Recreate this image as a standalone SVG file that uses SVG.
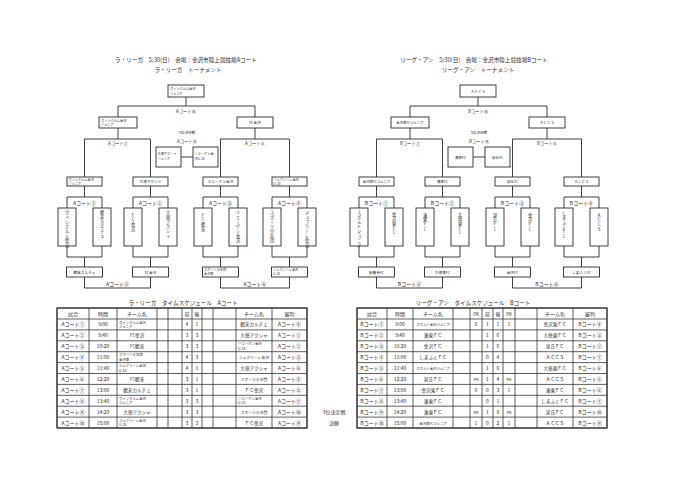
<svg xmlns="http://www.w3.org/2000/svg" width="700" height="495" viewBox="0 0 700 495">
<style>
.ln{fill:none;stroke:#2a2a2a;stroke-width:0.9}
.bx{fill:#fff;stroke:#2a2a2a;stroke-width:0.9}
.tb{fill:none;stroke:#2a2a2a;stroke-width:0.75}
text{font-family:"Noto Sans CJK JP","Noto Sans",sans-serif;fill:#2a2a2a}
.hd{font-size:5.6px;text-anchor:middle}
.lb{font-size:4.3px;text-anchor:middle}
.ct{font-size:5px;text-anchor:middle}
.bt{font-size:3.7px;text-anchor:middle}
.b2{font-size:3.2px}
.vt{font-size:4.2px;writing-mode:vertical-rl;text-orientation:upright;letter-spacing:0.5px}
.tc{font-size:5px;text-anchor:middle}
.tn{font-size:4.6px;text-anchor:middle}
.t2{font-size:3.4px}
</style>
<rect width="700" height="495" fill="#fff"/>

<!-- ===== Left tournament (A court) ===== -->
<text class="hd" x="186" y="62">ラ・リーガ　5/30(日)　会場：金沢市陸上競技場Aコート</text>
<text class="hd" x="188" y="72">ラ・リーガ　トーナメント</text>

<g id="bracket-a">
<g id="a-connectors" class="ln"><path d="M186,97V106M118,106H255M118,106V117M255,106V117M118,128V139M255,128V139M84.5,139H150.5M220.5,139H289.5M84.5,139V177M150.5,139V177M220.5,139V177M289.5,139V177M181,157H193M84.5,186V197M67,208V197H102V208M67,246V257H102V246M84.5,257V267M84.5,277V288M150.5,186V197M133,208V197H168V208M133,246V257H168V246M150.5,257V267M150.5,277V288M220.5,186V197M203,208V197H238V208M203,246V257H238V246M220.5,257V267M220.5,277V288M289.5,186V197M272,208V197H307V208M272,246V257H307V246M289.5,257V267M289.5,277V288M84.5,288H150.5M220.5,288H289.5"/></g>
<g id="a-labels">
<text class="lb" x="186" y="113">Aコート⑩</text>
<text class="lb" x="118" y="144.5">Aコート⑦</text>
<text class="lb" x="255" y="144.5">Aコート⑧</text>
<text class="lb" x="187" y="134" style="font-size:3.6px">3位決定戦</text>
<text class="lb" x="187" y="143">Aコート⑨</text>
<text class="ct" x="84.5" y="205">Aコート①</text>
<text class="ct" x="150.5" y="205">Aコート②</text>
<text class="ct" x="220.5" y="205">Aコート③</text>
<text class="ct" x="289.5" y="205">Aコート④</text>
<text class="ct" x="117.5" y="285.5">Aコート⑤</text>
<text class="ct" x="255" y="285.5">Aコート⑥</text>
</g>
<g id="a-final"><rect class="bx" x="168" y="85" width="36" height="12"/><text class="b2" x="170" y="90">ヴィンクルム金沢</text><text class="b2" x="170" y="95">ジュニア</text></g>
<g id="a-semi-1"><rect class="bx" x="99" y="117" width="38" height="11"/><text class="b2" x="101" y="121.5">ヴィンクルム金沢</text><text class="b2" x="101" y="126">ジュニア</text></g>
<g id="a-semi-2"><rect class="bx" x="237" y="117" width="36" height="11"/><text class="bt" x="255" y="124">FC金沢</text></g>
<g id="a-third-1"><rect class="bx" x="156" y="147" width="25" height="20"/><text class="b2" x="157.5" y="155">大徳アクシャ</text><text class="b2" x="157.5" y="160">ジュニア</text></g>
<g id="a-third-2"><rect class="bx" x="193" y="147" width="25" height="20"/><text class="b2" x="194.5" y="155">ツエーゲン金</text><text class="b2" x="194.5" y="160">沢U-10</text></g>
<g id="a-win-1"><rect class="bx" x="67" y="177" width="35" height="9"/><text class="b2" x="68.5" y="180.8">ヴィンクルム金沢</text><text class="b2" x="68.5" y="184.9">ジュニア</text></g>
<g id="a-win-2"><rect class="bx" x="133" y="177" width="35" height="9"/><text class="bt" x="150.5" y="183.2">大徳アクシャ</text></g>
<g id="a-win-3"><rect class="bx" x="203" y="177" width="35" height="9"/><text class="bt" x="220.5" y="183.2">ツエーゲン金沢</text></g>
<g id="a-win-4"><rect class="bx" x="272" y="177" width="35" height="9"/><text class="b2" x="273.5" y="180.8">ジュブリーレ金沢</text><text class="b2" x="273.5" y="184.9">U-10</text></g>
<g id="a-team-1"><rect class="bx" x="58" y="208" width="18" height="38"/><text class="vt" x="67" y="210.5">ヴィンクルム金沢</text></g>
<g id="a-team-2"><rect class="bx" x="93" y="208" width="18" height="38"/><text class="vt" x="102" y="210.5">鶴来カルチェ</text></g>
<g id="a-team-3"><rect class="bx" x="124" y="208" width="18" height="38"/><text class="vt" x="133" y="213">FC金沢</text></g>
<g id="a-team-4"><rect class="bx" x="159" y="208" width="18" height="38"/><text class="vt" x="168" y="210.5">大徳アクシャ</text></g>
<g id="a-team-5"><rect class="bx" x="194" y="208" width="18" height="38"/><text class="vt" x="203" y="213">FC鶴来</text></g>
<g id="a-team-6"><rect class="bx" x="229" y="208" width="18" height="38"/><text class="vt" x="238" y="210.5">ツエーゲン金沢</text></g>
<g id="a-team-7"><rect class="bx" x="263" y="208" width="18" height="38"/><text class="vt" x="272" y="210.5">スポーツ少年団</text></g>
<g id="a-team-8"><rect class="bx" x="298" y="208" width="18" height="38"/><text class="vt" x="307" y="210.5">ジュブリーレ金沢</text></g>
<g id="a-lose-1"><rect class="bx" x="66.5" y="267" width="36" height="10"/><text class="bt" x="84.5" y="273.5">鶴来カルチェ</text></g>
<g id="a-lose-2"><rect class="bx" x="132.5" y="267" width="36" height="10"/><text class="bt" x="150.5" y="273.5">FC金沢</text></g>
<g id="a-lose-3"><rect class="bx" x="202.5" y="267" width="36" height="10"/><text class="b2" x="204" y="270.9">スポーツ少年団</text><text class="b2" x="204" y="275.2">金沢東</text></g>
<g id="a-lose-4"><rect class="bx" x="271.5" y="267" width="36" height="10"/><text class="b2" x="273" y="270.9">ジュブリーレ金沢</text><text class="b2" x="273" y="275.2">U-10</text></g>
</g>

<!-- ===== Right tournament (B court) ===== -->
<text class="hd" x="474" y="62">リーグ・アン　5/30(日)　会場：金沢市陸上競技場Bコート</text>
<text class="hd" x="478" y="72">リーグ・アン　トーナメント</text>

<g id="bracket-b" transform="translate(292,0)">
<g id="b-connectors" class="ln"><path d="M186,97V106M118,106H255M118,106V117M255,106V117M118,128V139M255,128V139M84.5,139H150.5M220.5,139H289.5M84.5,139V177M150.5,139V177M220.5,139V177M289.5,139V177M181,157H193M84.5,186V197M67,208V197H102V208M67,246V257H102V246M84.5,257V267M84.5,277V288M150.5,186V197M133,208V197H168V208M133,246V257H168V246M150.5,257V267M150.5,277V288M220.5,186V197M203,208V197H238V208M203,246V257H238V246M220.5,257V267M220.5,277V288M289.5,186V197M272,208V197H307V208M272,246V257H307V246M289.5,257V267M289.5,277V288M84.5,288H150.5M220.5,288H289.5"/></g>
<g id="b-labels">
<text class="lb" x="186" y="113">Bコート⑩</text>
<text class="lb" x="118" y="144.5">Bコート⑦</text>
<text class="lb" x="255" y="144.5">Bコート⑧</text>
<text class="lb" x="187" y="134" style="font-size:3.6px">3位決定戦</text>
<text class="lb" x="187" y="143">Bコート⑨</text>
<text class="ct" x="84.5" y="205">Bコート①</text>
<text class="ct" x="150.5" y="205">Bコート②</text>
<text class="ct" x="220.5" y="205">Bコート③</text>
<text class="ct" x="289.5" y="205">Bコート④</text>
<text class="ct" x="117.5" y="285.5">Bコート⑤</text>
<text class="ct" x="255" y="285.5">Bコート⑥</text>
</g>
<g id="b-final"><rect class="bx" x="168" y="85" width="36" height="12"/><text class="bt" x="186" y="92.5">ＡＣＣＳ</text></g>
<g id="b-semi-1"><rect class="bx" x="99" y="117" width="38" height="11"/><text class="bt" x="118" y="124" style="font-size:3.4px">金沢東FCジュニア</text></g>
<g id="b-semi-2"><rect class="bx" x="237" y="117" width="36" height="11"/><text class="bt" x="255" y="124">ＡＣＣＳ</text></g>
<g id="b-third-1"><rect class="bx" x="156" y="147" width="25" height="20"/><text class="bt" x="168.5" y="158.5">湊東FC</text></g>
<g id="b-third-2"><rect class="bx" x="193" y="147" width="25" height="20"/><text class="bt" x="205.5" y="158.5">泉丘FC</text></g>
<g id="b-win-1"><rect class="bx" x="67" y="177" width="35" height="9"/><text class="bt" x="84.5" y="183.2" style="font-size:3.4px">金沢東FCジュニア</text></g>
<g id="b-win-2"><rect class="bx" x="133" y="177" width="35" height="9"/><text class="bt" x="150.5" y="183.2">湊東FC</text></g>
<g id="b-win-3"><rect class="bx" x="203" y="177" width="35" height="9"/><text class="bt" x="220.5" y="183.2">泉丘FC</text></g>
<g id="b-win-4"><rect class="bx" x="272" y="177" width="35" height="9"/><text class="bt" x="289.5" y="183.2">ＡＣＣＳ</text></g>
<g id="b-team-1"><rect class="bx" x="58" y="208" width="18" height="38"/><text class="vt" x="67" y="210.5">スポルトジュニア</text></g>
<g id="b-team-2"><rect class="bx" x="93" y="208" width="18" height="38"/><text class="vt" x="102" y="212">金沢東FC</text></g>
<g id="b-team-3"><rect class="bx" x="124" y="208" width="18" height="38"/><text class="vt" x="133" y="213">湊東FC</text></g>
<g id="b-team-4"><rect class="bx" x="159" y="208" width="18" height="38"/><text class="vt" x="168" y="212">大徳東FC</text></g>
<g id="b-team-5"><rect class="bx" x="194" y="208" width="18" height="38"/><text class="vt" x="203" y="213">泉丘FC</text></g>
<g id="b-team-6"><rect class="bx" x="229" y="208" width="18" height="38"/><text class="vt" x="238" y="213">金沢FC</text></g>
<g id="b-team-7"><rect class="bx" x="263" y="208" width="18" height="38"/><text class="vt" x="272" y="211">しまふくFC</text></g>
<g id="b-team-8"><rect class="bx" x="298" y="208" width="18" height="38"/><text class="vt" x="307" y="213">ＡＣＣＳ</text></g>
<g id="b-lose-1"><rect class="bx" x="66.5" y="267" width="36" height="10"/><text class="bt" x="84.5" y="273.5">安養寺FC</text></g>
<g id="b-lose-2"><rect class="bx" x="132.5" y="267" width="36" height="10"/><text class="bt" x="150.5" y="273.5">大徳東FC</text></g>
<g id="b-lose-3"><rect class="bx" x="202.5" y="267" width="36" height="10"/><text class="bt" x="220.5" y="273.5">金沢FC</text></g>
<g id="b-lose-4"><rect class="bx" x="271.5" y="267" width="36" height="10"/><text class="bt" x="289.5" y="273.5">しまふくFC</text></g>
</g>

<!-- ===== Left schedule table ===== -->
<g id="table-a">
<text class="hd" x="183" y="305">ラ・リーガ　タイムスケジュール　Aコート</text>
<path class="tb" d="M57,308H307M57,319H307M57,329.9H307M57,340.8H307M57,351.7H307M57,362.6H307M57,373.5H307M57,384.4H307M57,395.3H307M57,406.2H307M57,417.1H307M57,428H307M57,308V428M89,308V428M117,308V428M157,308V428M168,308V428M182,308V428M192,308V428M202,308V428M213,308V428M236,308V428M272,308V428M307,308V428"/>
<rect x="57" y="308" width="250" height="120" fill="none" stroke="#2a2a2a" stroke-width="1.1"/>
<g class="tc">
<text x="73" y="315.8">試合</text><text x="103" y="315.8">時間</text><text x="137" y="315.8">チーム名</text><text x="187" y="315.8">前</text><text x="197" y="315.8">後</text><text x="254" y="315.8">チーム名</text><text x="289.5" y="315.8">審判</text>
<text x="73" y="326.4">Aコート①</text><text x="103" y="326.4">9:00</text><text x="187" y="326.4">4</text><text x="197" y="326.4">1</text><text x="289.5" y="326.4">Aコート④</text>
<text x="73" y="337.3">Aコート②</text><text x="103" y="337.3">9:40</text><text x="187" y="337.3">3</text><text x="197" y="337.3">3</text><text x="289.5" y="337.3">Aコート①</text>
<text x="73" y="348.2">Aコート③</text><text x="103" y="348.2">10:20</text><text x="187" y="348.2">3</text><text x="197" y="348.2">3</text><text x="289.5" y="348.2">Aコート②</text>
<text x="73" y="359.1">Aコート④</text><text x="103" y="359.1">11:00</text><text x="187" y="359.1">4</text><text x="197" y="359.1">3</text><text x="289.5" y="359.1">Aコート③</text>
<text x="73" y="370">Aコート⑤</text><text x="103" y="370">11:40</text><text x="187" y="370">4</text><text x="197" y="370">1</text><text x="289.5" y="370">Aコート⑥</text>
<text x="73" y="380.9">Aコート⑥</text><text x="103" y="380.9">12:20</text><text x="187" y="380.9">3</text><text x="197" y="380.9">1</text><text x="289.5" y="380.9">Aコート⑤</text>
<text x="73" y="391.8">Aコート⑦</text><text x="103" y="391.8">13:00</text><text x="187" y="391.8">3</text><text x="197" y="391.8">1</text><text x="289.5" y="391.8">Aコート⑧</text>
<text x="73" y="402.7">Aコート⑧</text><text x="103" y="402.7">13:40</text><text x="187" y="402.7">3</text><text x="197" y="402.7">3</text><text x="289.5" y="402.7">Aコート⑦</text>
<text x="73" y="413.6">Aコート⑨</text><text x="103" y="413.6">14:20</text><text x="187" y="413.6">3</text><text x="197" y="413.6">3</text><text x="289.5" y="413.6">Aコート⑩</text>
<text x="73" y="424.5">Aコート⑩</text><text x="103" y="424.5">15:00</text><text x="187" y="424.5">3</text><text x="197" y="424.5">3</text><text x="289.5" y="424.5">Aコート⑨</text>
</g>
<g class="tn">
<text x="137" y="337.3">FC金沢</text><text x="137" y="348.2">FC鶴来</text><text x="137" y="380.9">FC鶴来</text><text x="137" y="391.8">鶴来カルチェ</text><text x="137" y="413.6">大徳アクシャ</text>
<text x="254" y="326.4">鶴来カルチェ</text><text x="254" y="337.3">大徳アクシャ</text><text x="254" y="359.1" style="font-size:3.8px">ジュブリーレ金沢</text><text x="254" y="370">大徳アクシャ</text><text x="254" y="380.9" style="font-size:3.8px">スポーツ少年団</text><text x="254" y="391.8">ＦＣ金沢</text><text x="254" y="413.6" style="font-size:3.8px">スポーツ少年団</text><text x="254" y="424.5">ＦＣ金沢</text>
</g>
<g class="t2">
<text x="119" y="323.6">ヴィンクルム金沢</text><text x="119" y="327.9">ジュニア</text>
<text x="238" y="345.4">ツエーゲン金沢</text><text x="238" y="349.7">U-10</text>
<text x="119" y="356.3">スポーツ少年団</text><text x="119" y="360.6">金沢東</text>
<text x="119" y="367.2">ジュブリーレ金沢</text><text x="119" y="371.5">U-10</text>
<text x="119" y="399.9">ヴィンクルム金沢</text><text x="119" y="404.2">ジュニア</text>
<text x="238" y="399.9">ツエーゲン金沢</text><text x="238" y="404.2">U-10</text>
<text x="119" y="421.7">ジュブリーレ金沢</text><text x="119" y="426">U-10</text>
</g>
</g>

<text class="tc" x="334" y="413.5">3位決定戦</text>
<text class="tc" x="334" y="424.5">決勝</text>

<!-- ===== Right schedule table ===== -->
<g id="table-b">
<text class="hd" x="473" y="305">リーグ・アン　タイムスケジュール　Bコート</text>
<path class="tb" d="M357,308H607M357,319H607M357,329.9H607M357,340.8H607M357,351.7H607M357,362.6H607M357,373.5H607M357,384.4H607M357,395.3H607M357,406.2H607M357,417.1H607M357,428H607M357,308V428M387,308V428M413,308V428M453,308V428M470,308V428M482,308V428M493,308V428M503,308V428M515,308V428M537,308V428M573,308V428M607,308V428"/>
<rect x="357" y="308" width="250" height="120" fill="none" stroke="#2a2a2a" stroke-width="1.1"/>
<g class="tc">
<text x="372" y="315.8">試合</text><text x="400" y="315.8">時間</text><text x="433" y="315.8">チーム名</text><text x="476" y="315.8" style="font-size:4.4px">PK</text><text x="487.5" y="315.8">前</text><text x="498" y="315.8">後</text><text x="509" y="315.8" style="font-size:4.4px">PK</text><text x="555" y="315.8">チーム名</text><text x="590" y="315.8">審判</text>
<text x="372" y="326.4">Bコート①</text><text x="400" y="326.4">9:00</text><text x="476" y="326.4">0</text><text x="487.5" y="326.4">1</text><text x="498" y="326.4">1</text><text x="509" y="326.4">1</text><text x="590" y="326.4">Bコート④</text>
<text x="372" y="337.3">Bコート②</text><text x="400" y="337.3">9:40</text><text x="487.5" y="337.3">1</text><text x="498" y="337.3">6</text><text x="590" y="337.3">Bコート③</text>
<text x="372" y="348.2">Bコート③</text><text x="400" y="348.2">10:20</text><text x="487.5" y="348.2">1</text><text x="498" y="348.2">6</text><text x="590" y="348.2">Bコート②</text>
<text x="372" y="359.1">Bコート④</text><text x="400" y="359.1">11:00</text><text x="487.5" y="359.1">0</text><text x="498" y="359.1">4</text><text x="590" y="359.1">Bコート①</text>
<text x="372" y="370">Bコート⑤</text><text x="400" y="370">11:40</text><text x="487.5" y="370">1</text><text x="498" y="370">6</text><text x="590" y="370">Bコート⑥</text>
<text x="372" y="380.9">Bコート⑥</text><text x="400" y="380.9">12:20</text><text x="476" y="380.9" style="font-size:4px">PK</text><text x="487.5" y="380.9">1</text><text x="498" y="380.9">4</text><text x="509" y="380.9" style="font-size:4px">PK</text><text x="590" y="380.9">Bコート⑤</text>
<text x="372" y="391.8">Bコート⑦</text><text x="400" y="391.8">13:00</text><text x="476" y="391.8">0</text><text x="487.5" y="391.8">0</text><text x="498" y="391.8">3</text><text x="509" y="391.8">1</text><text x="590" y="391.8">Bコート⑧</text>
<text x="372" y="402.7">Bコート⑧</text><text x="400" y="402.7">13:40</text><text x="487.5" y="402.7">0</text><text x="498" y="402.7">1</text><text x="590" y="402.7">Bコート⑦</text>
<text x="372" y="413.6">Bコート⑨</text><text x="400" y="413.6">14:20</text><text x="476" y="413.6" style="font-size:4px">PK</text><text x="487.5" y="413.6">1</text><text x="498" y="413.6">0</text><text x="509" y="413.6" style="font-size:4px">PK</text><text x="590" y="413.6">Bコート⑩</text>
<text x="372" y="424.5">Bコート⑩</text><text x="400" y="424.5">15:00</text><text x="476" y="424.5">1</text><text x="487.5" y="424.5">0</text><text x="498" y="424.5">2</text><text x="509" y="424.5">1</text><text x="590" y="424.5">Bコート⑨</text>
</g>
<g class="tn">
<text x="433" y="326.4" style="font-size:3.4px">スポルト金沢ジュニア</text><text x="433" y="337.3">湊東ＦＣ</text><text x="433" y="348.2">金沢ＦＣ</text><text x="433" y="359.1">しまふくＦＣ</text><text x="433" y="370" style="font-size:3.4px">スポルト金沢ジュニア</text><text x="433" y="380.9">泉丘ＦＣ</text><text x="433" y="391.8">金沢東ＦＣ</text><text x="433" y="402.7">湊東ＦＣ</text><text x="433" y="413.6">湊東ＦＣ</text><text x="433" y="424.5" style="font-size:3.4px">金沢東FCジュニア</text>
<text x="555" y="326.4">金沢東ＦＣ</text><text x="555" y="337.3">大徳東ＦＣ</text><text x="555" y="348.2">泉丘ＦＣ</text><text x="555" y="359.1">ＡＣＣＳ</text><text x="555" y="370">大徳東ＦＣ</text><text x="555" y="380.9">ＡＣＣＳ</text><text x="555" y="391.8">湊東ＦＣ</text><text x="555" y="402.7">しまふくＦＣ</text><text x="555" y="413.6">泉丘ＦＣ</text><text x="555" y="424.5">ＡＣＣＳ</text>
</g>
</g>
</svg>
